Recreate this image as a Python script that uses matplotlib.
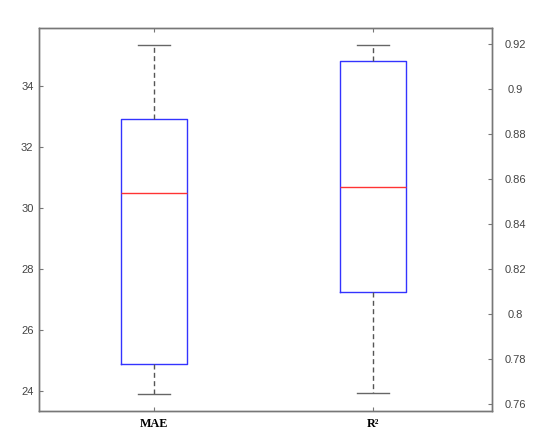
import matplotlib.pyplot as plt

plt.rcParams['lines.scale_dashes'] = False

# box statistics
labels = ['MAE', 'R\u00b2']
mae_stats = {'whislo': 23.92, 'q1': 24.88, 'med': 30.48, 'q3': 32.91, 'whishi': 35.34}
r2_stats = {'whislo': 0.7648, 'q1': 0.8098, 'med': 0.8567, 'q3': 0.9126, 'whishi': 0.9197}
left_ticks = [24, 26, 28, 30, 32, 34]
right_ticks = [0.76, 0.78, 0.8, 0.82, 0.84, 0.86, 0.88, 0.9, 0.92]

spine_col = '#777777'
text_col = '#444444'

fig = plt.figure(figsize=(5.5, 4.44), dpi=100)
ax = fig.add_axes([0.0709, 0.0743, 0.8236, 0.8626])
ax2 = ax.twinx()

styles = dict(
    widths=0.30, showfliers=False, patch_artist=False,
    boxprops=dict(color='#3333ff', linewidth=1.0),
    medianprops=dict(color='#ff3333', linewidth=1.0),
    whiskerprops=dict(color='#555555', linewidth=1.0, linestyle=(0, (3.6, 2.4))),
    capprops=dict(color='#666666', linewidth=1.0),
)

for a, st, pos in [(ax, mae_stats, 1), (ax2, r2_stats, 2)]:
    b = a.bxp([dict(st, label=labels[pos - 1])], positions=[pos], **styles)
    for cap in b['caps']:
        x0, x1 = cap.get_xdata()
        c = (x0 + x1) / 2
        cap.set_xdata([c - 0.075, c + 0.075])

ax.set_xlim(0.475, 2.543)
ax.set_ylim(23.35, 35.90)
ax2.set_ylim(0.757, 0.9272)

ax.set_xticks([1, 2])
ax.set_xticklabels(labels, fontfamily='Liberation Serif', fontweight='bold',
                   fontsize=8.7, color='black')
ax.set_yticks(left_ticks)
ax.set_yticklabels([str(t) for t in left_ticks])
ax2.set_yticks(right_ticks)
ax2.set_yticklabels([('%g' % t) for t in right_ticks])

ax.tick_params(axis='x', direction='in', length=3, width=0.8, color=spine_col,
               top=True, pad=5)
ax.tick_params(axis='y', direction='in', length=3, width=0.8, color=spine_col,
               labelsize=8, labelcolor=text_col, pad=4)
ax2.tick_params(axis='y', direction='in', length=3, width=0.8, color=spine_col,
                labelsize=8, labelcolor=text_col, pad=17)
for t in ax2.get_yticklabels():
    t.set_horizontalalignment('center')
for t in ax.get_yticklabels() + ax2.get_yticklabels():
    t.set_fontfamily('Liberation Sans')

for a in (ax, ax2):
    for s in a.spines.values():
        s.set_color(spine_col)
        s.set_linewidth(1.0)

fig.savefig('out.png', dpi=100)
